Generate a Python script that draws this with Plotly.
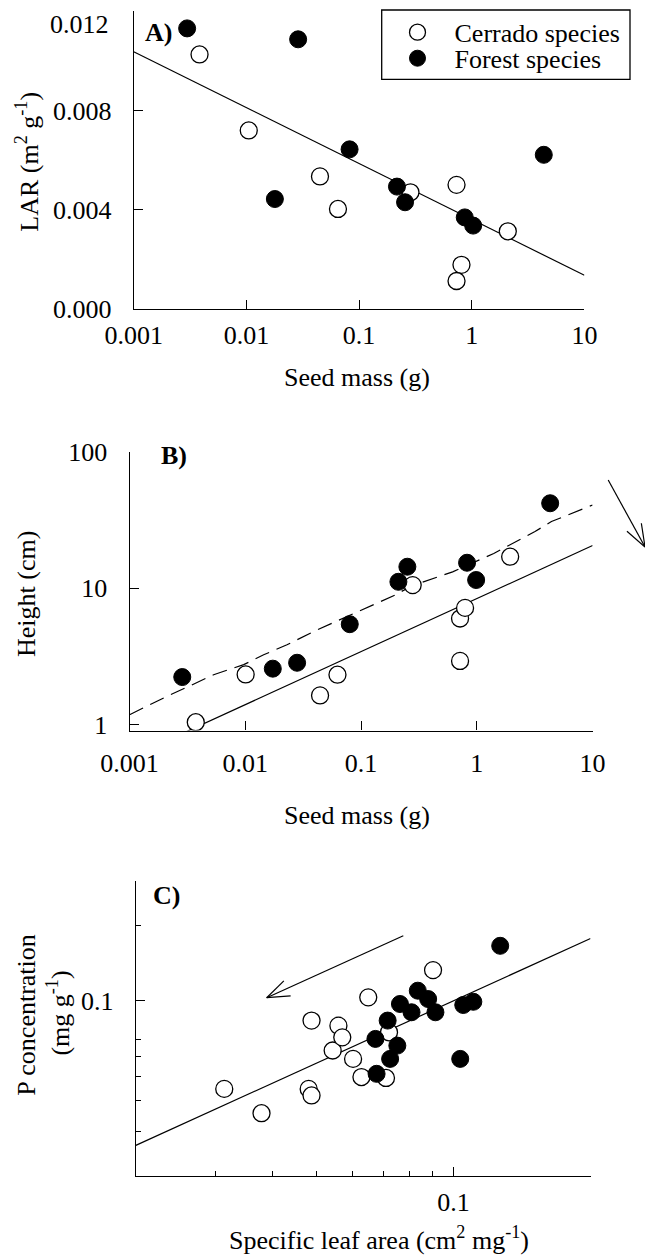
import math
import plotly.graph_objects as go

W, H = 645, 1255
FONT = "Liberation Serif"
FS = 26

# ---------------- Panel A: LAR vs seed mass ----------------
a_cer_x = [0.00384, 0.0105, 0.045, 0.065, 0.286, 0.733, 0.811, 0.733, 2.09]
a_cer_y = [0.01026, 0.0072, 0.00535, 0.00404, 0.00471, 0.00501, 0.00179, 0.00114, 0.00314]
a_for_x = [0.00298, 0.0288, 0.0824, 0.0179, 0.217, 0.256, 0.867, 1.03, 4.36]
a_for_y = [0.01131, 0.01087, 0.00644, 0.00444, 0.00494, 0.00431, 0.0037, 0.00337, 0.00622]
a_fit_x = [0.001, 10]
a_fit_y = [0.01037, 0.00137]
a_xticks = [0.001, 0.01, 0.1, 1, 10]
a_xticktext = ["0.001", "0.01", "0.1", "1", "10"]
a_yticks = [0.0, 0.004, 0.008, 0.012]
a_yticktext = ["0.000", "0.004", "0.008", "0.012"]

# ---------------- Panel B: Height vs seed mass ----------------
b_cer_x = [0.00373, 0.01006, 0.0442, 0.0625, 0.279, 0.716, 0.791, 0.716, 1.94]
b_cer_y = [1.04, 2.33, 1.635, 2.32, 10.55, 6.0, 7.18, 2.93, 17.06]
b_for_x = [0.00285, 0.01726, 0.028, 0.0798, 0.21, 0.251, 0.823, 0.986, 4.3]
b_for_y = [2.23, 2.57, 2.84, 5.45, 11.16, 14.4, 15.4, 11.5, 42.1]
b_fit_x = [0.0031, 10]
b_fit_y = [0.887, 20.6]
b_smooth_x = [0.001, 0.0021, 0.00335, 0.00532, 0.00968, 0.0144, 0.0229, 0.039, 0.0798,
              0.196, 0.273, 0.618, 1.40, 3.18, 4.41, 6.12, 10]
b_smooth_y = [1.18, 1.61, 1.93, 2.32, 2.75, 3.25, 3.85, 4.82, 6.34,
              8.91, 10.4, 13.2, 18.0, 26.1, 30.9, 34.6, 40.9]
b_yticks = [1, 10, 100]
b_yticktext = ["1", "10", "100"]

# ---------------- Panel C: P concentration vs SLA ----------------
c_cer_x = [0.0313, 0.0378, 0.048, 0.0487, 0.0487, 0.0542, 0.0558, 0.0569, 0.0601, 0.0627,
           0.0649, 0.071, 0.0721, 0.0901]
c_cer_y = [0.0445, 0.0356, 0.0445, 0.0419, 0.0833, 0.0633, 0.0795, 0.0714, 0.0586, 0.0496,
           0.1031, 0.0492, 0.0748, 0.1324]
c_for_x = [0.0673, 0.0677, 0.0716, 0.0725, 0.0752, 0.0762, 0.0808, 0.0834, 0.0879, 0.0912,
           0.105, 0.1105, 0.1034, 0.1266]
c_for_y = [0.0704, 0.0511, 0.0833, 0.0586, 0.0662, 0.097, 0.0899, 0.1096, 0.1015, 0.0899,
           0.0961, 0.099, 0.0586, 0.1655]
c_fit_x = [0.02, 0.2]
c_fit_y = [0.0265, 0.177]
c_xminor = [0.03, 0.04, 0.05, 0.06, 0.07, 0.08, 0.09, 0.2]
c_yminor = [0.03, 0.04, 0.05, 0.06, 0.07, 0.2, 0.3]


def px(v):
    return v / W


def py(v):
    return 1 - v / H


open_marker = dict(symbol="circle", size=17, color="white", line=dict(color="black", width=1.3))
fill_marker = dict(symbol="circle", size=17, color="black", line=dict(color="black", width=1))
fit_line = dict(color="black", width=1.2)

fig = go.Figure()

# Panel A
fig.add_trace(go.Scatter(x=a_fit_x, y=a_fit_y, mode="lines", line=fit_line,
                         showlegend=False, xaxis="x", yaxis="y", hoverinfo="skip"))
fig.add_trace(go.Scatter(x=a_cer_x, y=a_cer_y, mode="markers", marker=open_marker,
                         name="Cerrado species", legend="legend", xaxis="x", yaxis="y"))
fig.add_trace(go.Scatter(x=a_for_x, y=a_for_y, mode="markers", marker=fill_marker,
                         name="Forest species", legend="legend2", xaxis="x", yaxis="y"))

# Panel B
fig.add_trace(go.Scatter(x=b_fit_x, y=b_fit_y, mode="lines", line=fit_line,
                         showlegend=False, xaxis="x2", yaxis="y2"))
fig.add_trace(go.Scatter(x=b_smooth_x, y=b_smooth_y, mode="lines",
                         line=dict(color="black", width=1.2, dash="15px,8px"),
                         showlegend=False, xaxis="x2", yaxis="y2"))
fig.add_trace(go.Scatter(x=b_cer_x, y=b_cer_y, mode="markers", marker=open_marker,
                         showlegend=False, xaxis="x2", yaxis="y2"))
fig.add_trace(go.Scatter(x=b_for_x, y=b_for_y, mode="markers", marker=fill_marker,
                         showlegend=False, xaxis="x2", yaxis="y2"))

# Panel C
fig.add_trace(go.Scatter(x=c_fit_x, y=c_fit_y, mode="lines", line=fit_line,
                         showlegend=False, xaxis="x3", yaxis="y3"))
fig.add_trace(go.Scatter(x=c_cer_x, y=c_cer_y, mode="markers", marker=open_marker,
                         showlegend=False, xaxis="x3", yaxis="y3"))
fig.add_trace(go.Scatter(x=c_for_x, y=c_for_y, mode="markers", marker=fill_marker,
                         showlegend=False, xaxis="x3", yaxis="y3"))

tickfont = dict(family=FONT, size=FS, color="black")
axis_common = dict(showline=True, linecolor="black", linewidth=1.2, ticks="inside",
                   tickcolor="black", tickwidth=1.2, ticklen=9, showgrid=False,
                   zeroline=False, tickfont=tickfont, automargin=False, mirror=False,
                   ticklabeloverflow="allow")

leg_common = dict(xanchor="left", yanchor="middle", borderwidth=0,
                  bgcolor="rgba(0,0,0,0)",
                  font=dict(family=FONT, size=FS, color="black"),
                  itemwidth=64, tracegroupgap=0)

# the top label of panel A sits a little below its tick in the original; drawn separately
a_ytick_axis_text = a_yticktext[:-1] + [""]

fig.update_layout(
    xaxis=dict(domain=[px(133.7), px(584.4)], type="log", range=[-3, 1], anchor="y",
               tickmode="array", tickvals=a_xticks, ticktext=a_xticktext,
               ticklabelstandoff=2, **axis_common),
    yaxis=dict(domain=[py(309.3), py(11)], range=[0, 0.01201], anchor="x",
               tickmode="array", tickvals=a_yticks, ticktext=a_ytick_axis_text,
               ticklabelstandoff=16, **axis_common),
    xaxis2=dict(domain=[px(129.6), px(592.6)], type="log", range=[-3, 1], anchor="y2",
                tickmode="array", tickvals=a_xticks, ticktext=a_xticktext,
                ticklabelstandoff=9, **axis_common),
    yaxis2=dict(domain=[py(730.5), py(452)], type="log", range=[-0.044, 2.0005], anchor="x2",
                tickmode="array", tickvals=b_yticks, ticktext=b_yticktext,
                ticklabelstandoff=16, **axis_common),
    xaxis3=dict(domain=[px(135.8), px(590.5)], type="log",
                range=[math.log10(0.02), math.log10(0.2)], anchor="y3",
                tickmode="array", tickvals=[0.1], ticktext=["0.1"],
                ticklabelstandoff=3,
                minor=dict(tickmode="array", tickvals=c_xminor, ticks="inside",
                           ticklen=5, tickcolor="black", tickwidth=1.2),
                **axis_common),
    yaxis3=dict(domain=[py(1176), py(881)], type="log",
                range=[math.log10(0.02), math.log10(0.3)], anchor="x3",
                tickmode="array", tickvals=[0.1], ticktext=["0.1"],
                ticklabelstandoff=16,
                minor=dict(tickmode="array", tickvals=c_yminor, ticks="inside",
                           ticklen=5, tickcolor="black", tickwidth=1.2),
                **axis_common),
    width=W, height=H,
    margin=dict(l=0, r=0, t=0, b=0),
    paper_bgcolor="white", plot_bgcolor="white",
    font=dict(family=FONT, size=FS, color="black"),
    showlegend=True,
    legend=dict(x=px(380.5), y=py(32.3), **leg_common),
    legend2=dict(x=px(380.5), y=py(58.3), **leg_common),
)

ann = []


def text(t, x, y, xanchor="center", yanchor="middle", angle=0, size=FS):
    ann.append(dict(text=t, x=px(x), y=py(y), xref="paper", yref="paper",
                    xanchor=xanchor, yanchor=yanchor, showarrow=False,
                    textangle=angle, font=dict(family=FONT, size=size, color="black")))


# top tick label of panel A
text(a_yticktext[-1], 111, 25, xanchor="right")
# panel labels
text("<b>A)</b>", 143, 32, xanchor="left")
text("<b>B)</b>", 159, 455, xanchor="left")
text("<b>C)</b>", 151, 895, xanchor="left")
# axis titles
text("LAR (m<sup>2</sup> g<sup>-1</sup>)", 26.7, 162, angle=-90)
text("Seed mass (g)", 356.7, 377)
text("Height (cm)", 26, 594, angle=-90)
text("Seed mass (g)", 357, 815)
text("P concentration", 26.7, 1015, angle=-90)
text("(mg g<sup>-1</sup>)", 57.6, 1013, angle=-90)
text("Specific leaf area (cm<sup>2</sup> mg<sup>-1</sup>)", 378.6, 1238)

fig.update_layout(annotations=ann)

shapes = []
# legend frame
shapes.append(dict(type="rect", xref="paper", yref="paper",
                   x0=px(381.7), y0=py(79.3), x1=px(630), y1=py(10),
                   line=dict(color="black", width=1.3), fillcolor="white", layer="below"))


def arrow(tail, tip, barb=24, ang=20):
    shapes.append(dict(type="line", xref="paper", yref="paper",
                       x0=px(tail[0]), y0=py(tail[1]), x1=px(tip[0]), y1=py(tip[1]),
                       line=dict(color="black", width=1.2)))
    base = math.atan2(tail[1] - tip[1], tail[0] - tip[0])
    for s in (-1, 1):
        a = base + s * math.radians(ang)
        ex, ey = tip[0] + barb * math.cos(a), tip[1] + barb * math.sin(a)
        shapes.append(dict(type="line", xref="paper", yref="paper",
                           x0=px(tip[0]), y0=py(tip[1]), x1=px(ex), y1=py(ey),
                           line=dict(color="black", width=1.2)))


arrow((608.2, 480), (645, 547))
arrow((403.3, 935.7), (266.7, 997.7))
fig.update_layout(shapes=shapes)

fig.write_html("out.html", config={"displayModeBar": False},
               post_script="document.body.style.margin='0';")
